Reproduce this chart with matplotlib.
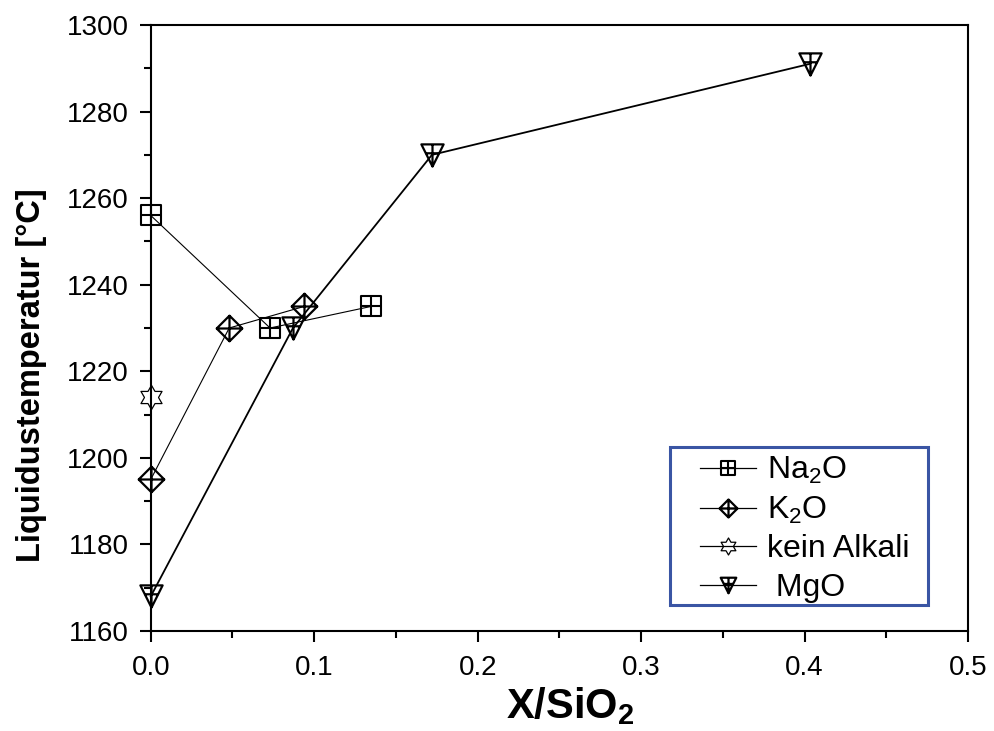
import numpy as np
import matplotlib
matplotlib.use("Agg")
import matplotlib.pyplot as plt
from matplotlib.path import Path
from matplotlib.patches import Rectangle
from matplotlib.ticker import MultipleLocator

plt.rcParams['font.family'] = ['Liberation Sans', 'DejaVu Sans']
plt.rcParams['mathtext.fontset'] = 'custom'
plt.rcParams['mathtext.rm'] = 'Liberation Sans'
plt.rcParams['mathtext.it'] = 'Liberation Sans:italic'
plt.rcParams['mathtext.bf'] = 'Liberation Sans:bold'

# ---- data ----
na2o_x = [0.0, 0.073, 0.135]
na2o_y = [1256, 1230, 1235]
k2o_x = [0.0, 0.048, 0.094]
k2o_y = [1195, 1230, 1235]
kein_x = [0.0]
kein_y = [1214]
mgo_x = [0.0, 0.087, 0.172, 0.403]
mgo_y = [1168, 1230, 1270, 1291]

labels = ['Na$_2$O', 'K$_2$O', 'kein Alkali', ' MgO']

# ---- custom markers ----
M, L, C = Path.MOVETO, Path.LINETO, Path.CLOSEPOLY
sq_plus = Path([(-1, -1), (1, -1), (1, 1), (-1, 1), (-1, -1),
                (0, -1), (0, 1), (-1, 0), (1, 0)],
               [M, L, L, L, C, M, L, M, L])
dia_plus = Path([(0, -1), (1, 0), (0, 1), (-1, 0), (0, -1),
                 (0, -1), (0, 1), (-1, 0), (1, 0)],
                [M, L, L, L, C, M, L, M, L])
tri_plus = Path([(-1, 1), (1, 1), (0, -1), (-1, 1),
                 (0, 1), (0, -1), (-0.6, 0.2), (0.6, 0.2)],
                [M, L, L, C, M, L, M, L])
verts = []
for i in range(12):
    ang = np.deg2rad(90 + 30 * i)
    r = 1.0 if i % 2 == 0 else 1 / np.sqrt(3)
    verts.append((r * np.cos(ang), r * np.sin(ang)))
verts.append(verts[0])
hexa = Path(verts, [M] + [L] * 11 + [C])

W, H = 995, 731
fig = plt.figure(figsize=(9.95, 7.31), dpi=100)
ax = fig.add_axes([0.1515, 0.1368, 0.8215, 0.829])

common = dict(color='black', mfc='none', mec='black', clip_on=False, zorder=3)
ax.plot(na2o_x, na2o_y, lw=0.8, marker=sq_plus, ms=14, mew=1.5,
        label=labels[0], **common)
ax.plot(k2o_x, k2o_y, lw=0.8, marker=dia_plus, ms=18.5, mew=1.6,
        label=labels[1], **common)
ax.plot(kein_x, kein_y, lw=0.8, marker=hexa, ms=17.5, mew=0.9,
        label=labels[2], **common)
ax.plot(mgo_x, mgo_y, lw=1.3, marker=tri_plus, ms=16, mew=1.6,
        label=labels[3], **common)

ax.set_xlim(0, 0.5)
ax.set_ylim(1160, 1300)
ax.xaxis.set_major_locator(MultipleLocator(0.1))
ax.xaxis.set_minor_locator(MultipleLocator(0.05))
ax.yaxis.set_major_locator(MultipleLocator(20))
ax.yaxis.set_minor_locator(MultipleLocator(10))
ax.xaxis.set_major_formatter(matplotlib.ticker.FormatStrFormatter('%.1f'))
ax.tick_params(which='major', direction='out', length=8, width=1.5,
               labelsize=20, top=False, right=False)
ax.tick_params(axis='y', which='major', pad=8)
ax.tick_params(axis='x', which='major', pad=9)
ax.tick_params(which='minor', direction='out', length=5, width=1.5,
               top=False, right=False)
for s in ax.spines.values():
    s.set_linewidth(1.5)

ax.set_xlabel(r'X/SiO$_{\mathbf{2}}$', fontsize=30, fontweight='bold')
ax.xaxis.set_label_coords(0.513, -0.09)
ax.xaxis.label.set_va('top')
ax.set_ylabel('Liquidustemperatur [°C]', fontsize=23.5, fontweight='bold')
ax.yaxis.set_label_coords(-0.127, 0.4224)

leg = ax.legend(loc='upper left', bbox_to_anchor=(700 / W, 1 - 455 / H),
                bbox_transform=fig.transFigure, fontsize=23, frameon=False,
                handlelength=1.75, handletextpad=0.35,
                labelspacing=0.27, borderpad=0.0, borderaxespad=0,
                markerscale=0.7)
for h in leg.get_lines():
    h.set_linewidth(0.9)

frame = Rectangle((670 / W, 1 - 605 / H), (928 - 670) / W, (605 - 447) / H,
                  transform=fig.transFigure, fill=False,
                  edgecolor='#3a55a4', linewidth=2.2, zorder=5)
fig.add_artist(frame)

fig.savefig('out.png', dpi=100)
